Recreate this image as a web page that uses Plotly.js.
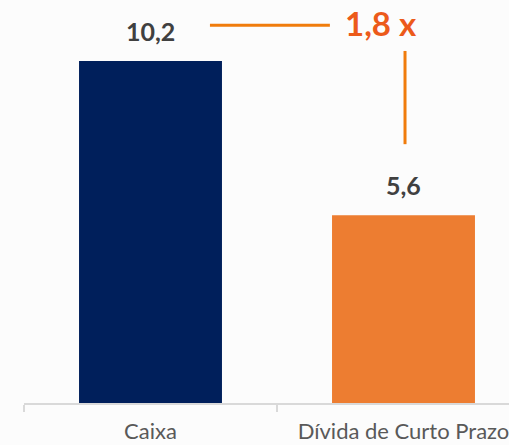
<!DOCTYPE html>
<html><head><meta charset="utf-8">
<script src="https://cdn.plot.ly/plotly-3.0.1.min.js"></script>
<style>html,body{margin:0;padding:0;background:#fcfcfc}</style>
</head><body>
<div id="chart" style="width:509px;height:445px"></div>
<script>
var categories = ["Caixa", "Dívida de Curto Prazo"];
var values = [10.2, 5.6];
var labels = ["10,2", "5,6"];
var barColors = ["#001f5b", "#ed7d31"];
var ratioText = (values[0] / values[1]).toFixed(1).replace(".", ",") + " x";

var FONT = "Lato, 'Open Sans', sans-serif";

var trace = {
  type: "bar",
  x: categories,
  y: values,
  marker: {color: barColors},
  width: 0.565,
  hoverinfo: "skip"
};

var annotations = categories.map(function (c, i) {
  return {
    x: c, y: values[i], xref: "x", yref: "y",
    text: labels[i], showarrow: false,
    yanchor: "bottom", yshift: 13,
    font: {family: FONT, size: 25, color: "#404040", weight: "bold"}
  };
});
annotations.push({
  x: 0.911, y: 11.33, xref: "x", yref: "y",
  text: ratioText, showarrow: false,
  font: {family: FONT, size: 33, color: "#ec5a1a", weight: "bold"}
});

var layout = {
  width: 509, height: 445,
  margin: {l: 24, r: 0, t: 0, b: 42},
  paper_bgcolor: "#fcfcfc", plot_bgcolor: "#fcfcfc",
  showlegend: false,
  xaxis: {
    range: [-0.5, 1.417],
    tickson: "boundaries",
    ticks: "outside", ticklen: 7, tickcolor: "#d9d9d9", tickwidth: 1.5,
    ticklabelstandoff: 8,
    showline: true, linecolor: "#d9d9d9", linewidth: 1.5,
    showgrid: false, zeroline: false,
    tickfont: {family: FONT, size: 22, color: "#595959"}
  },
  yaxis: {
    range: [0, 12.02], visible: false, showgrid: false, zeroline: false
  },
  annotations: annotations,
  shapes: [
    {type: "line", xref: "x", yref: "y", x0: 0.235, x1: 0.709, y0: 11.27, y1: 11.27,
     line: {color: "#f07c0c", width: 3}},
    {type: "line", xref: "x", yref: "y", x0: 1.006, x1: 1.006, y0: 10.5, y1: 7.72,
     line: {color: "#f07c0c", width: 3}}
  ]
};

Plotly.newPlot("chart", [trace], layout, {displayModeBar: false, staticPlot: true});
</script>
</body></html>
